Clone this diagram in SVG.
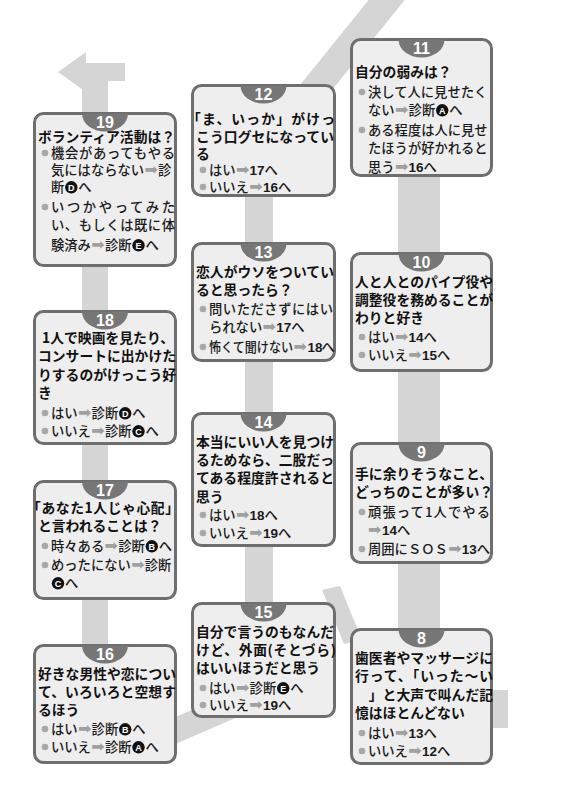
<svg xmlns="http://www.w3.org/2000/svg" width="585" height="800" viewBox="0 0 585 800">
<style>
.bg{fill:#ffffff}
.band{fill:#d5d5d5}
.card rect{fill:#eeeeee;stroke:#6e6e6e;stroke-width:3}
.tab{fill:#777777}
.num{font-family:"Liberation Sans",sans-serif;font-weight:bold;font-size:16px;fill:#ffffff;text-anchor:middle}
.t{font-family:"Noto Sans CJK JP",sans-serif;font-weight:bold;font-size:13.8px;fill:#111111}
.b{font-family:"Noto Sans CJK JP",sans-serif;font-weight:500;font-size:13.3px;fill:#1a1a1a}
.ar{font-family:"DejaVu Sans",sans-serif;font-size:16px;fill:#a0a0a0}
.d{font-family:"Liberation Sans",sans-serif;font-weight:bold;font-size:13.5px}
.dot{fill:#a8a8a8}
.cl{fill:#111111}
.clt{font-family:"Liberation Sans",sans-serif;font-weight:bold;font-size:9px;fill:#ffffff;text-anchor:middle}
</style>
<rect class="bg" x="0" y="0" width="585" height="800"/>
<g id="connectors">
<polygon class="band" points="400,690 508,690 508,728 400,728"/>
<rect class="band" x="398" y="60" width="42" height="660"/>
<polygon class="band" points="292,95 328,95 404.6,0 368.6,0"/>
<rect class="band" x="245" y="95" width="28" height="610"/>
<polygon class="band" points="322,590 340,586 362,640 344,644"/>
<polygon class="band" points="150,728 240,689 240,716 150,755"/>
<rect class="band" x="82" y="72" width="26" height="660"/>
<polygon class="band" points="58,72 86,52 86,63 125,63 125,81 86,81 86,92"/>
</g>

<g id="n11" class="card">
<rect x="351.5" y="39.5" width="140" height="136" rx="9"/>
<path class="tab" d="M398.5,39.5 A23 18 0 0 0 444.5,39.5 Z"/>
<text class="num" x="421.5" y="53.5">11</text>
<text class="t" x="355" y="77">自分の弱みは？</text>
<circle class="dot" cx="362" cy="92" r="3.3"/><circle class="dot" cx="362" cy="130" r="3.3"/>
<text class="b" x="368" y="97">決して人に見せたく</text>
<text class="b" y="115"><tspan x="368">ない</tspan><tspan class="ar" x="395">➡</tspan><tspan x="408.6">診断</tspan><tspan x="449.2">へ</tspan></text>
<circle class="cl" cx="442.2" cy="110.3" r="6.2"/><text class="clt" x="442.2" y="113.5">A</text>
<text class="b" x="368" y="135">ある程度は人に見せ</text>
<text class="b" x="368" y="153">たほうが好かれると</text>
<text class="b" y="172"><tspan x="368">思う</tspan><tspan class="ar" x="395">➡</tspan><tspan class="d" x="408.6">16</tspan><tspan x="423.6">へ</tspan></text>
</g>

<g id="n12" class="card">
<rect x="192.5" y="85.5" width="142" height="110" rx="9"/>
<path class="tab" d="M240.5,85.5 A23 18 0 0 0 286.5,85.5 Z"/>
<text class="num" x="263.5" y="99.5">12</text>
<text class="t" x="187" y="124" textLength="148" lengthAdjust="spacing">「ま、いっか」がけっ</text>
<text class="t" x="196" y="142" textLength="138" lengthAdjust="spacing">こう口グセになってい</text>
<text class="t" x="196" y="159">る</text>
<circle class="dot" cx="203" cy="170" r="3.3"/><circle class="dot" cx="203" cy="187" r="3.3"/>
<text class="b" y="175"><tspan x="209">はい</tspan><tspan class="ar" x="236">➡</tspan><tspan class="d" x="249.6">17</tspan><tspan x="264.6">へ</tspan></text>
<text class="b" y="192"><tspan x="209">いいえ</tspan><tspan class="ar" x="249.3">➡</tspan><tspan class="d" x="262.9">16</tspan><tspan x="277.9">へ</tspan></text>
</g>

<g id="n19" class="card">
<rect x="34.5" y="113.5" width="141" height="152" rx="9"/>
<path class="tab" d="M82,113.5 A23 18 0 0 0 128,113.5 Z"/>
<text class="num" x="105" y="127.5">19</text>
<text class="t" x="38" y="142" textLength="137" lengthAdjust="spacing">ボランティア活動は？</text>
<circle class="dot" cx="45" cy="153" r="3.3"/><circle class="dot" cx="45" cy="207" r="3.3"/>
<text class="b" x="51" y="158" textLength="124" lengthAdjust="spacing">機会があってもやる</text>
<text class="b" y="175"><tspan x="51">気にはならない</tspan><tspan class="ar" x="144.5">➡</tspan><tspan x="158.1">診</tspan></text>
<text class="b" y="192"><tspan x="51">断</tspan><tspan x="78.3">へ</tspan></text>
<circle class="cl" cx="71.3" cy="187.3" r="6.2"/><text class="clt" x="71.3" y="190.5">D</text>
<text class="b" x="51" y="212" textLength="124" lengthAdjust="spacing">いつかやってみた</text>
<text class="b" x="51" y="230" textLength="124" lengthAdjust="spacing">い、もしくは既に体</text>
<text class="b" y="250"><tspan x="51">験済み</tspan><tspan class="ar" x="91.3">➡</tspan><tspan x="104.9">診断</tspan><tspan x="145.5">へ</tspan></text>
<circle class="cl" cx="138.5" cy="245.3" r="6.2"/><text class="clt" x="138.5" y="248.5">E</text>
</g>

<g id="n13" class="card">
<rect x="192.5" y="243.5" width="142" height="117" rx="9"/>
<path class="tab" d="M240.5,243.5 A23 18 0 0 0 286.5,243.5 Z"/>
<text class="num" x="263.5" y="257.5">13</text>
<text class="t" x="196" y="277" textLength="138" lengthAdjust="spacing">恋人がウソをついてい</text>
<text class="t" x="196" y="295">ると思ったら？</text>
<circle class="dot" cx="203" cy="309" r="3.3"/><circle class="dot" cx="203" cy="347" r="3.3"/>
<text class="b" x="209" y="314" textLength="124" lengthAdjust="spacing">問いたださずにはい</text>
<text class="b" y="332"><tspan x="209">られない</tspan><tspan class="ar" x="262.6">➡</tspan><tspan class="d" x="276.2">17</tspan><tspan x="291.2">へ</tspan></text>
<text class="b" y="352"><tspan x="209" textLength="84" lengthAdjust="spacingAndGlyphs">怖くて聞けない</tspan><tspan class="ar" x="293.5">➡</tspan><tspan class="d" x="307.5">18</tspan><tspan x="321.5">へ</tspan></text>
</g>

<g id="n10" class="card">
<rect x="351.5" y="253.5" width="140" height="117" rx="9"/>
<path class="tab" d="M398.5,253.5 A23 18 0 0 0 444.5,253.5 Z"/>
<text class="num" x="421.5" y="267.5">10</text>
<text class="t" x="355" y="287" textLength="138" lengthAdjust="spacing">人と人とのパイプ役や</text>
<text class="t" x="355" y="305" textLength="138" lengthAdjust="spacing">調整役を務めることが</text>
<text class="t" x="355" y="323">わりと好き</text>
<circle class="dot" cx="362" cy="337" r="3.3"/><circle class="dot" cx="362" cy="355" r="3.3"/>
<text class="b" y="342"><tspan x="368">はい</tspan><tspan class="ar" x="395">➡</tspan><tspan class="d" x="408.6">14</tspan><tspan x="423.6">へ</tspan></text>
<text class="b" y="360"><tspan x="368">いいえ</tspan><tspan class="ar" x="408.3">➡</tspan><tspan class="d" x="421.9">15</tspan><tspan x="436.9">へ</tspan></text>
</g>

<g id="n18" class="card">
<rect x="34.5" y="311.5" width="141" height="132" rx="9"/>
<path class="tab" d="M82,311.5 A23 18 0 0 0 128,311.5 Z"/>
<text class="num" x="105" y="325.5">18</text>
<text class="t" x="42" y="343" textLength="132" lengthAdjust="spacing">1人で映画を見たり、</text>
<text class="t" x="38" y="361" textLength="138" lengthAdjust="spacing">コンサートに出かけた</text>
<text class="t" x="38" y="380" textLength="138" lengthAdjust="spacing">りするのがけっこう好</text>
<text class="t" x="38" y="398">き</text>
<circle class="dot" cx="45" cy="413" r="3.3"/><circle class="dot" cx="45" cy="431" r="3.3"/>
<text class="b" y="418"><tspan x="51">はい</tspan><tspan class="ar" x="78">➡</tspan><tspan x="91.6">診断</tspan><tspan x="132.2">へ</tspan></text>
<circle class="cl" cx="125.2" cy="413.3" r="6.2"/><text class="clt" x="125.2" y="416.5">D</text>
<text class="b" y="436"><tspan x="51">いいえ</tspan><tspan class="ar" x="91.3">➡</tspan><tspan x="104.9">診断</tspan><tspan x="145.5">へ</tspan></text>
<circle class="cl" cx="138.5" cy="431.3" r="6.2"/><text class="clt" x="138.5" y="434.5">C</text>
</g>

<g id="n14" class="card">
<rect x="192.5" y="413.5" width="142" height="132" rx="9"/>
<path class="tab" d="M240.5,413.5 A23 18 0 0 0 286.5,413.5 Z"/>
<text class="num" x="263.5" y="427.5">14</text>
<text class="t" x="196" y="447" textLength="138" lengthAdjust="spacing">本当にいい人を見つけ</text>
<text class="t" x="196" y="465" textLength="138" lengthAdjust="spacing">るためなら、二股だっ</text>
<text class="t" x="196" y="483" textLength="138" lengthAdjust="spacing">てある程度許されると</text>
<text class="t" x="196" y="502">思う</text>
<circle class="dot" cx="203" cy="515" r="3.3"/><circle class="dot" cx="203" cy="533" r="3.3"/>
<text class="b" y="520"><tspan x="209">はい</tspan><tspan class="ar" x="236">➡</tspan><tspan class="d" x="249.6">18</tspan><tspan x="264.6">へ</tspan></text>
<text class="b" y="538"><tspan x="209">いいえ</tspan><tspan class="ar" x="249.3">➡</tspan><tspan class="d" x="262.9">19</tspan><tspan x="277.9">へ</tspan></text>
</g>

<g id="n9" class="card">
<rect x="351.5" y="443.5" width="140" height="119" rx="9"/>
<path class="tab" d="M398.5,443.5 A23 18 0 0 0 444.5,443.5 Z"/>
<text class="num" x="421.5" y="457.5">9</text>
<text class="t" x="355" y="479" textLength="138" lengthAdjust="spacing">手に余りそうなこと、</text>
<text class="t" x="355" y="497" textLength="138" lengthAdjust="spacing">どっちのことが多い？</text>
<circle class="dot" cx="362" cy="512" r="3.3"/><circle class="dot" cx="362" cy="549" r="3.3"/>
<text class="b" x="368" y="517" textLength="122" lengthAdjust="spacing">頑張って1人でやる</text>
<text class="b" y="535"><tspan class="ar" x="368">➡</tspan><tspan class="d" x="382">14</tspan><tspan x="397">へ</tspan></text>
<text class="b" y="554"><tspan x="368">周囲にＳＯＳ</tspan><tspan class="ar" x="448.2">➡</tspan><tspan class="d" x="461.8">13</tspan><tspan x="476.8">へ</tspan></text>
</g>

<g id="n17" class="card">
<rect x="34.5" y="481.5" width="141" height="117" rx="9"/>
<path class="tab" d="M82,481.5 A23 18 0 0 0 128,481.5 Z"/>
<text class="num" x="105" y="495.5">17</text>
<text class="t" x="27" y="513" textLength="152" lengthAdjust="spacing">「あなた1人じゃ心配」</text>
<text class="t" x="38" y="531">と言われることは？</text>
<circle class="dot" cx="45" cy="546" r="3.3"/><circle class="dot" cx="45" cy="565" r="3.3"/>
<text class="b" y="551"><tspan x="51">時々ある</tspan><tspan class="ar" x="104.6">➡</tspan><tspan x="118.2">診断</tspan><tspan x="158.8">へ</tspan></text>
<circle class="cl" cx="151.8" cy="546.3" r="6.2"/><text class="clt" x="151.8" y="549.5">B</text>
<text class="b" y="570"><tspan x="51">めったにない</tspan><tspan class="ar" x="131.2">➡</tspan><tspan x="144.8">診断</tspan></text>
<text class="b" y="588"><tspan x="65">へ</tspan></text>
<circle class="cl" cx="58" cy="583.3" r="6.2"/><text class="clt" x="58" y="586.5">C</text>
</g>

<g id="n15" class="card">
<rect x="192.5" y="603.5" width="142" height="113" rx="9"/>
<path class="tab" d="M240.5,603.5 A23 18 0 0 0 286.5,603.5 Z"/>
<text class="num" x="263.5" y="617.5">15</text>
<text class="t" x="196" y="637" textLength="138" lengthAdjust="spacing">自分で言うのもなんだ</text>
<text class="t" x="196" y="655" textLength="140" lengthAdjust="spacing">けど、外面(そとづら)</text>
<text class="t" x="196" y="673">はいいほうだと思う</text>
<circle class="dot" cx="203" cy="688" r="3.3"/><circle class="dot" cx="203" cy="705" r="3.3"/>
<text class="b" y="693"><tspan x="209">はい</tspan><tspan class="ar" x="236">➡</tspan><tspan x="249.6">診断</tspan><tspan x="290.2">へ</tspan></text>
<circle class="cl" cx="283.2" cy="688.3" r="6.2"/><text class="clt" x="283.2" y="691.5">E</text>
<text class="b" y="710"><tspan x="209">いいえ</tspan><tspan class="ar" x="249.3">➡</tspan><tspan class="d" x="262.9">19</tspan><tspan x="277.9">へ</tspan></text>
</g>

<g id="n8" class="card">
<rect x="351.5" y="629.5" width="140" height="134" rx="9"/>
<path class="tab" d="M398.5,629.5 A23 18 0 0 0 444.5,629.5 Z"/>
<text class="num" x="421.5" y="643.5">8</text>
<text class="t" x="355" y="663" textLength="138" lengthAdjust="spacing">歯医者やマッサージに</text>
<text class="t" x="355" y="681" textLength="138" lengthAdjust="spacing">行って、「いった～い</text>
<text class="t" x="355" y="700" textLength="138" lengthAdjust="spacing">　」と大声で叫んだ記</text>
<text class="t" x="355" y="718">憶はほとんどない</text>
<circle class="dot" cx="362" cy="733" r="3.3"/><circle class="dot" cx="362" cy="751" r="3.3"/>
<text class="b" y="738"><tspan x="368">はい</tspan><tspan class="ar" x="395">➡</tspan><tspan class="d" x="408.6">13</tspan><tspan x="423.6">へ</tspan></text>
<text class="b" y="756"><tspan x="368">いいえ</tspan><tspan class="ar" x="408.3">➡</tspan><tspan class="d" x="421.9">12</tspan><tspan x="436.9">へ</tspan></text>
</g>

<g id="n16" class="card">
<rect x="34.5" y="645.5" width="141" height="117" rx="9"/>
<path class="tab" d="M82,645.5 A23 18 0 0 0 128,645.5 Z"/>
<text class="num" x="105" y="659.5">16</text>
<text class="t" x="38" y="679" textLength="138" lengthAdjust="spacing">好きな男性や恋につい</text>
<text class="t" x="38" y="697" textLength="138" lengthAdjust="spacing">て、いろいろと空想す</text>
<text class="t" x="38" y="715">るほう</text>
<circle class="dot" cx="45" cy="729" r="3.3"/><circle class="dot" cx="45" cy="747" r="3.3"/>
<text class="b" y="734"><tspan x="51">はい</tspan><tspan class="ar" x="78">➡</tspan><tspan x="91.6">診断</tspan><tspan x="132.2">へ</tspan></text>
<circle class="cl" cx="125.2" cy="729.3" r="6.2"/><text class="clt" x="125.2" y="732.5">B</text>
<text class="b" y="752"><tspan x="51">いいえ</tspan><tspan class="ar" x="91.3">➡</tspan><tspan x="104.9">診断</tspan><tspan x="145.5">へ</tspan></text>
<circle class="cl" cx="138.5" cy="747.3" r="6.2"/><text class="clt" x="138.5" y="750.5">A</text>
</g>
</svg>
